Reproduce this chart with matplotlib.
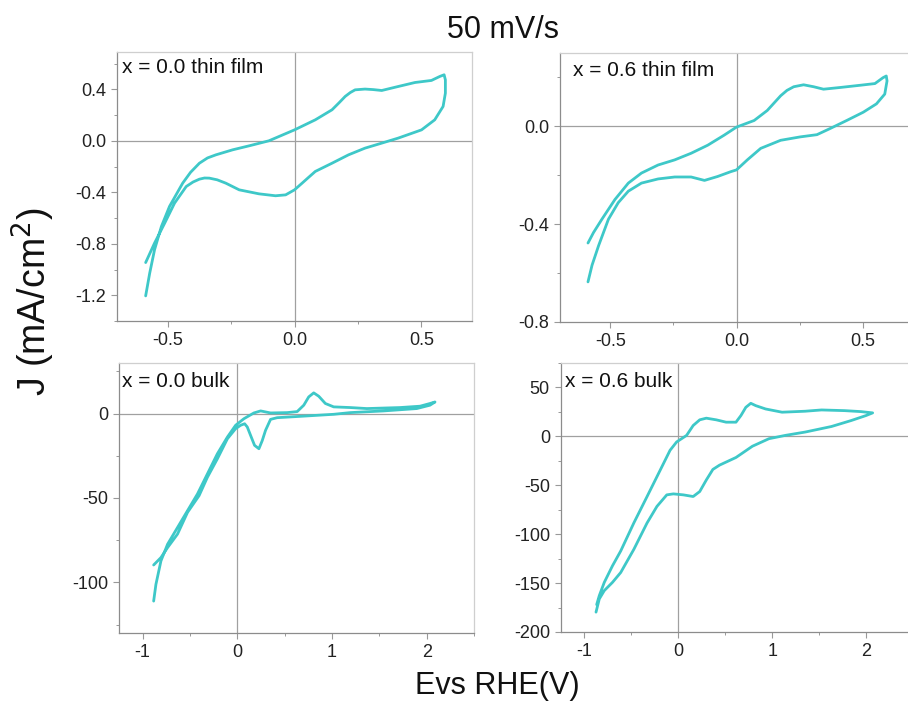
import numpy as np
import matplotlib.pyplot as plt
from matplotlib.ticker import MultipleLocator, FormatStrFormatter

plt.rcParams['font.family'] = ['Liberation Sans', 'DejaVu Sans']
plt.rcParams['axes.unicode_minus'] = False

# --- datos (E vs RHE en V, J en mA/cm2) ---
# x = 0.0 thin film
E_00_film = [-0.587, -0.571, -0.552, -0.525, -0.493, -0.441, -0.410, -0.375, -0.343, -0.310,
             -0.244, -0.179, -0.101, 0.000, 0.082, 0.148, 0.176, 0.200, 0.220, 0.239,
             0.278, 0.310, 0.344, 0.409, 0.475, 0.540, 0.573, 0.590, 0.595, 0.595,
             0.586, 0.553, 0.501, 0.409, 0.344, 0.278, 0.213, 0.148, 0.082, 0.055,
             0.030, 0.000, -0.035, -0.075, -0.140, -0.218, -0.271, -0.305, -0.336, -0.355,
             -0.375, -0.400, -0.427, -0.473, -0.512, -0.552, -0.587]
J_00_film = [-1.205, -1.028, -0.847, -0.666, -0.510, -0.329, -0.245, -0.174, -0.133, -0.109,
             -0.070, -0.039, 0.000, 0.085, 0.163, 0.241, 0.296, 0.345, 0.375, 0.396,
             0.402, 0.398, 0.391, 0.422, 0.453, 0.469, 0.500, 0.513, 0.474, 0.370,
             0.267, 0.163, 0.085, 0.021, -0.018, -0.057, -0.109, -0.174, -0.238, -0.285,
             -0.329, -0.381, -0.420, -0.427, -0.412, -0.381, -0.329, -0.303, -0.290, -0.289,
             -0.298, -0.320, -0.355, -0.484, -0.640, -0.795, -0.946]

# x = 0.6 thin film
E_06_film = [-0.589, -0.573, -0.547, -0.508, -0.469, -0.429, -0.377, -0.311, -0.245, -0.180,
             -0.127, -0.075, -0.022, 0.000, 0.043, 0.096, 0.175, 0.253, 0.319, 0.371,
             0.437, 0.503, 0.555, 0.588, 0.597, 0.594, 0.581, 0.549, 0.490, 0.411,
             0.345, 0.306, 0.266, 0.227, 0.200, 0.175, 0.122, 0.070, 0.000, -0.049, -0.114,
             -0.180, -0.245, -0.311, -0.377, -0.429, -0.482, -0.534, -0.567, -0.589]
J_06_film = [-0.636, -0.568, -0.488, -0.380, -0.312, -0.265, -0.232, -0.215, -0.207, -0.207,
             -0.221, -0.205, -0.185, -0.178, -0.137, -0.090, -0.057, -0.043, -0.034, -0.009,
             0.024, 0.058, 0.092, 0.132, 0.186, 0.206, 0.199, 0.175, 0.168, 0.159,
             0.152, 0.162, 0.170, 0.162, 0.147, 0.125, 0.065, 0.024, -0.003, -0.036, -0.077,
             -0.110, -0.137, -0.158, -0.191, -0.232, -0.299, -0.380, -0.434, -0.477]

# x = 0.0 bulk
E_00_bulk = [-0.884, -0.860, -0.807, -0.737, -0.632, -0.526, -0.421, -0.316, -0.211, -0.105,
             -0.018, 0.070, 0.175, 0.246, 0.351, 0.526, 0.632, 0.702, 0.754, 0.807,
             0.860, 0.930, 1.018, 1.193, 1.368, 1.719, 1.930, 2.035, 2.088, 2.035,
             1.895, 1.544, 1.193, 1.018, 0.667, 0.421, 0.351, 0.298, 0.263, 0.228,
             0.182, 0.140, 0.105, 0.077, 0.035, -0.018, -0.105, -0.211, -0.316, -0.404,
             -0.526, -0.632, -0.737, -0.807, -0.884]
J_00_bulk = [-111.1, -101.2, -87.3, -77.4, -67.5, -57.5, -47.6, -35.7, -23.8, -13.9,
             -6.9, -3.0, 0.4, 1.6, 0.4, 0.6, 1.2, 5.0, 9.9, 12.3,
             10.3, 6.0, 4.0, 3.6, 3.0, 3.6, 4.4, 6.0, 6.9, 5.0,
             3.0, 1.6, 0.6, -0.4, -1.6, -2.4, -3.4, -9.9, -16.0, -20.8,
             -18.8, -12.9, -7.9, -6.0, -6.9, -8.9, -14.9, -26.8, -37.7, -48.6,
             -58.5, -71.4, -79.4, -85.3, -89.7]

# x = 0.6 bulk
E_06_bulk = [-0.870, -0.842, -0.789, -0.702, -0.614, -0.474, -0.333, -0.193, -0.088, -0.018,
             0.088, 0.158, 0.228, 0.298, 0.404, 0.509, 0.614, 0.667, 0.719, 0.772,
             0.825, 0.930, 1.105, 1.351, 1.526, 1.772, 1.947, 2.070, 2.000, 1.842,
             1.632, 1.351, 1.140, 0.965, 0.789, 0.614, 0.439, 0.368, 0.298, 0.228,
             0.158, 0.053, -0.053, -0.123, -0.228, -0.333, -0.474, -0.614, -0.702,
             -0.789, -0.842, -0.877]
J_06_bulk = [-172.0, -162.8, -149.3, -132.4, -117.2, -88.5, -61.5, -34.5, -14.2, -5.7,
             1.0, 11.1, 16.9, 18.6, 16.9, 14.5, 14.5, 21.3, 29.7, 33.8,
             31.4, 28.0, 24.7, 25.7, 27.0, 26.3, 25.3, 24.0, 21.3, 16.2,
             10.1, 4.4, 1.0, -2.4, -10.1, -21.6, -29.4, -33.8, -44.6, -56.4,
             -61.5, -59.8, -58.8, -59.8, -71.6, -88.5, -115.5, -139.2, -149.3,
             -157.7, -166.2, -179.7]

labels = ['x = 0.0 thin film', 'x = 0.6 thin film', 'x = 0.0 bulk', 'x = 0.6 bulk']

color = '#3ec8c8'

fig = plt.figure(figsize=(9.08, 7.19), dpi=100)

# posiciones en pixeles (izq, der, arriba, abajo)
pos_px = [(117, 472, 52, 321), (560, 913, 53, 322), (119, 474, 363, 633), (561, 913, 363, 632)]
axes = []
for (l, r, t, b) in pos_px:
    axes.append(fig.add_axes([l / 908, 1 - b / 719, (r - l) / 908, (b - t) / 719]))

series = [(E_00_film, J_00_film), (E_06_film, J_06_film), (E_00_bulk, J_00_bulk), (E_06_bulk, J_06_bulk)]
xlims = [(-0.7, 0.7), (-0.7, 0.7), (-1.25, 2.5), (-1.25, 2.5)]
ylims = [(-1.4, 0.69), (-0.8, 0.3), (-130, 30), (-200, 75)]
xmaj = [0.5, 0.5, 1, 1]
xmin = [0.25, 0.25, 0.5, 0.5]
ymaj = [0.4, 0.4, 50, 50]
ymin = [0.2, 0.2, 25, 25]
xfmt = ['%.1f', '%.1f', '%d', '%d']
yfmt = ['%.1f', '%.1f', '%d', '%d']
label_pos = [(0.014, 0.922), (0.037, 0.914), (0.008, 0.91), (0.011, 0.91)]

for i, ax in enumerate(axes):
    E, J = series[i]
    ax.axhline(0, color='#a0a0a0', lw=0.9, zorder=1)
    ax.axvline(0, color='#a0a0a0', lw=0.9, zorder=1)
    ax.plot(E, J, color=color, lw=2.0, solid_joinstyle='round', solid_capstyle='round', zorder=3)
    ax.set_xlim(*xlims[i])
    ax.set_ylim(*ylims[i])
    ax.xaxis.set_major_locator(MultipleLocator(xmaj[i]))
    ax.xaxis.set_minor_locator(MultipleLocator(xmin[i]))
    ax.yaxis.set_major_locator(MultipleLocator(ymaj[i]))
    ax.yaxis.set_minor_locator(MultipleLocator(ymin[i]))
    ax.xaxis.set_major_formatter(FormatStrFormatter(xfmt[i]))
    ax.yaxis.set_major_formatter(FormatStrFormatter(yfmt[i]))
    for s in ['left', 'bottom']:
        ax.spines[s].set_color('#8c8c8c')
        ax.spines[s].set_linewidth(0.9)
    for s in ['top', 'right']:
        ax.spines[s].set_color('#cfcfcf')
        ax.spines[s].set_linewidth(0.9)
    ax.tick_params(which='major', direction='out', length=4, width=0.8, color='#999999',
                   labelsize=13, pad=4, labelcolor='#222222')
    ax.tick_params(which='minor', direction='out', length=2.5, width=0.7, color='#999999')
    ax.text(label_pos[i][0], label_pos[i][1], labels[i], transform=ax.transAxes,
            fontsize=15, va='baseline', ha='left', color='#111111', zorder=4)

fig.text(503 / 908, 1 - 30 / 719, '50 mV/s', fontsize=22, ha='center', va='center', color='#111111')
fig.text(33 / 908, 1 - 302 / 719, 'J (mA/cm$^2$)', fontsize=27, rotation=90,
         ha='center', va='center', color='#111111')
fig.text(497 / 908, 1 - 686 / 719, 'Evs RHE(V)', fontsize=22, ha='center', va='center', color='#111111')

fig.savefig('out.png', dpi=100)
